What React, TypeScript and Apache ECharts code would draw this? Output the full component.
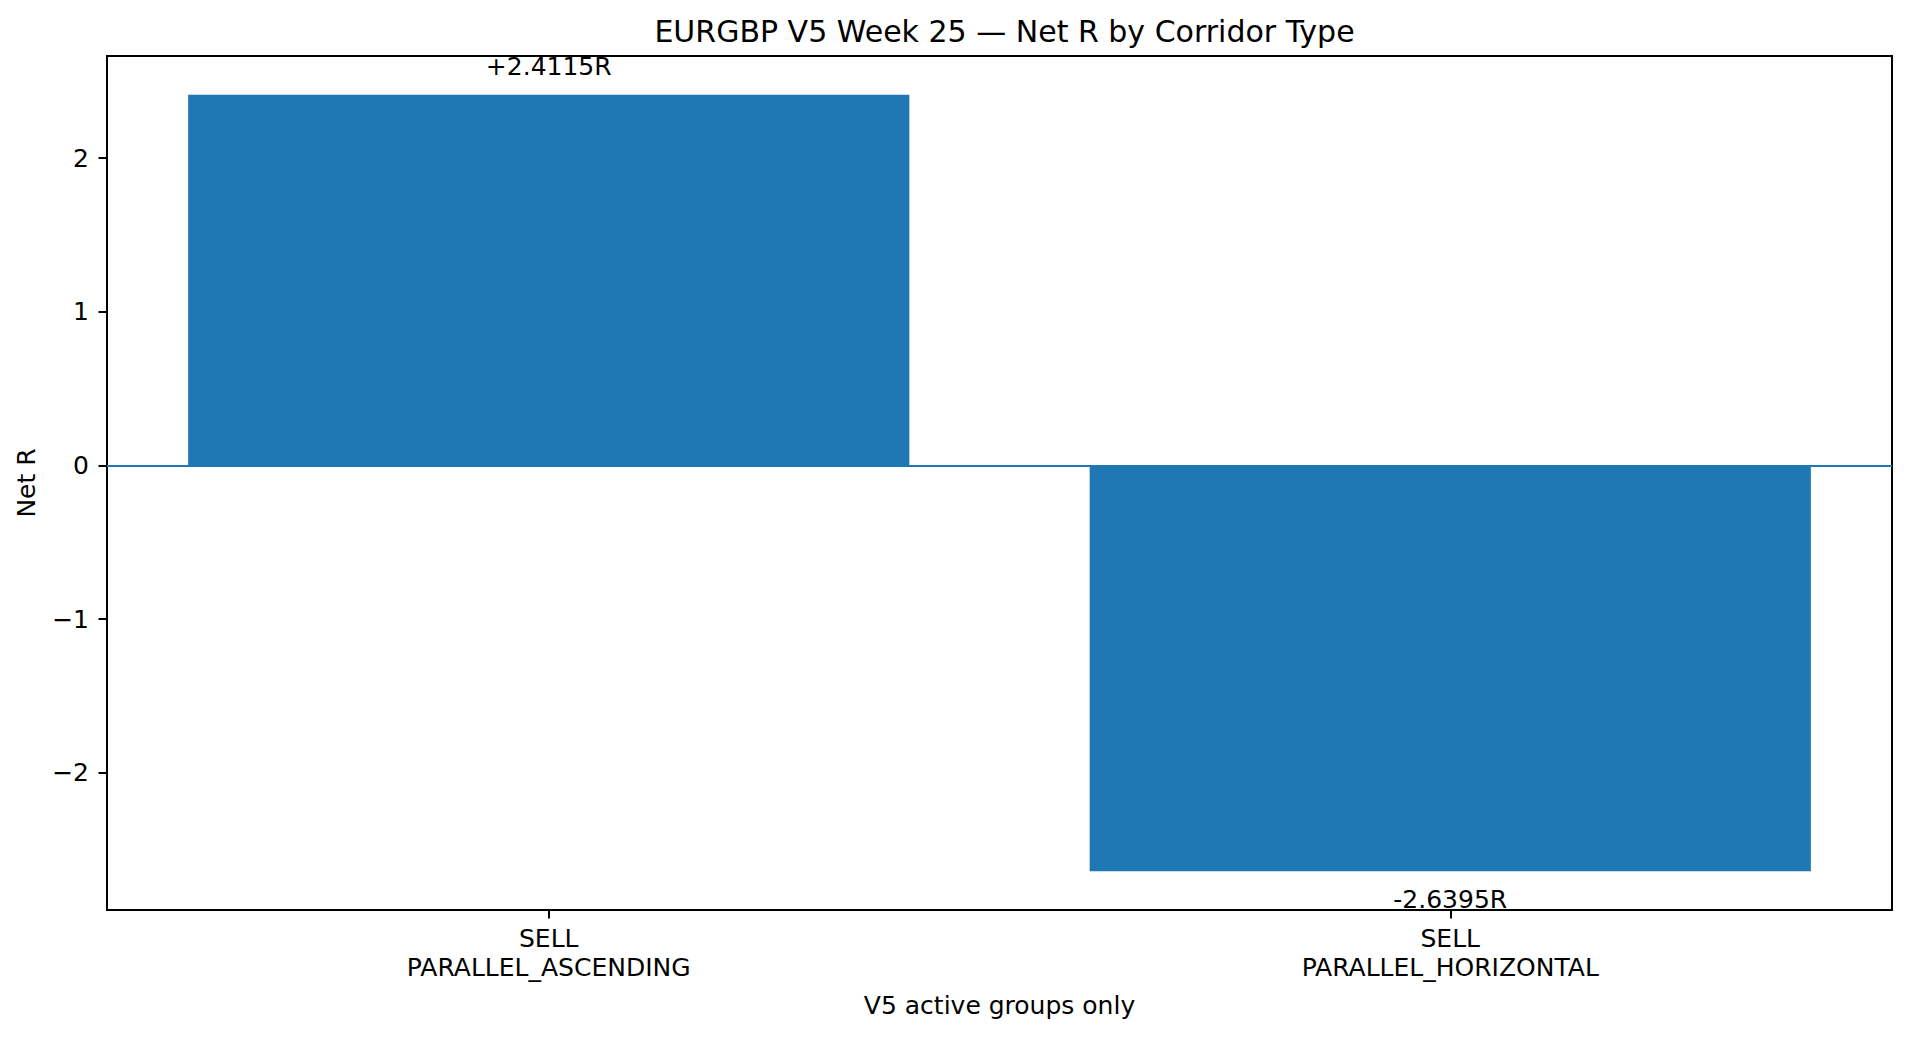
import { useEffect, useRef } from 'react';
import * as echarts from 'echarts';

// Data
const CORRIDORS = ['SELL\nPARALLEL_ASCENDING', 'SELL\nPARALLEL_HORIZONTAL'];
const NET_R = [2.4115, -2.6395];
const Y_TICKS = [-2, -1, 0, 1, 2];
const X_TICKS = [0, 1];

const FONT = 'DejaVu Sans';
const BAR_COLOR = '#1f77b4';

export default function App() {
  const chartRef = useRef<HTMLDivElement>(null);

  useEffect(() => {
    if (!chartRef.current) return;
    document.body.style.margin = '0';
    const chart = echarts.init(chartRef.current, undefined, { renderer: 'svg' });

    // matplotlib-like 5% margins around the data
    const yMinData = Math.min(0, ...NET_R);
    const yMaxData = Math.max(0, ...NET_R);
    const yPad = (yMaxData - yMinData) * 0.05;
    const xMin = -0.4 - 0.09;
    const xMax = CORRIDORS.length - 1 + 0.4 + 0.09;

    const gridLeft = 107;
    const gridRight = 18;
    const gridWidth = 1910 - gridLeft - gridRight;
    const barWidth = (0.8 * gridWidth) / (xMax - xMin);

    const option: echarts.EChartsOption = {
      animation: false,
      backgroundColor: '#ffffff',
      textStyle: { fontFamily: FONT, color: '#000' },
      title: {
        text: 'EURGBP V5 Week 25 — Net R by Corridor Type',
        left: gridLeft + gridWidth / 2,
        textAlign: 'center',
        top: 11,
        textStyle: {
          fontFamily: FONT,
          fontSize: 30,
          fontWeight: 'normal',
          color: '#000',
        },
      },
      grid: {
        left: gridLeft,
        right: gridRight,
        top: 56,
        bottom: 127,
        show: true,
        borderColor: '#000',
        borderWidth: 2,
        backgroundColor: '#fff',
        outerBoundsMode: 'none',
      } as any,
      xAxis: {
        type: 'value',
        min: xMin,
        max: xMax,
        name: 'V5 active groups only',
        nameLocation: 'middle',
        nameGap: 83,
        nameTextStyle: { fontFamily: FONT, fontSize: 25, color: '#000' },
        splitLine: { show: false },
        axisLine: { show: true, onZero: false, lineStyle: { color: '#000', width: 2 } },
        axisTick: {
          show: true,
          length: 8.5,
          lineStyle: { color: '#000', width: 2 },
          customValues: X_TICKS,
        } as any,
        axisLabel: {
          fontFamily: FONT,
          fontSize: 25,
          lineHeight: 29,
          color: '#000',
          margin: 14,
          customValues: X_TICKS,
          formatter: (v: number) => CORRIDORS[Math.round(v)] ?? '',
        } as any,
      },
      yAxis: {
        type: 'value',
        min: yMinData - yPad,
        max: yMaxData + yPad,
        name: 'Net R',
        nameLocation: 'middle',
        nameRotate: 90,
        nameGap: 68,
        nameTextStyle: { fontFamily: FONT, fontSize: 25, color: '#000' },
        splitLine: { show: false },
        axisLine: { show: true, onZero: false, lineStyle: { color: '#000', width: 2 } },
        axisTick: {
          show: true,
          length: 8.5,
          lineStyle: { color: '#000', width: 2 },
          customValues: Y_TICKS,
        } as any,
        axisLabel: {
          fontFamily: FONT,
          fontSize: 25,
          color: '#000',
          margin: 18,
          customValues: Y_TICKS,
          formatter: (v: number) => String(v).replace('-', '\u2212'),
        } as any,
      },
      series: [
        {
          type: 'bar',
          barWidth,
          itemStyle: { color: BAR_COLOR },
          data: NET_R.map((v, i) => ({
            value: [i, v],
            label: {
              show: true,
              position: v >= 0 ? 'top' : 'bottom',
              distance: 16,
              fontFamily: FONT,
              fontSize: 25,
              color: '#000',
              formatter: () => (v >= 0 ? '+' : '') + v.toFixed(4) + 'R',
            },
          })),
          markLine: {
            silent: true,
            symbol: 'none',
            label: { show: false },
            lineStyle: { color: BAR_COLOR, width: 2, type: 'solid', opacity: 1 },
            data: [{ yAxis: 0 }],
          },
        },
      ],
    };

    chart.setOption(option);

    return () => {
      chart.dispose();
    };
  }, []);

  return (
    <div
      ref={chartRef}
      style={{ position: 'fixed', left: 0, top: 0, width: '1910px', height: '1037px' }}
    />
  );
}
